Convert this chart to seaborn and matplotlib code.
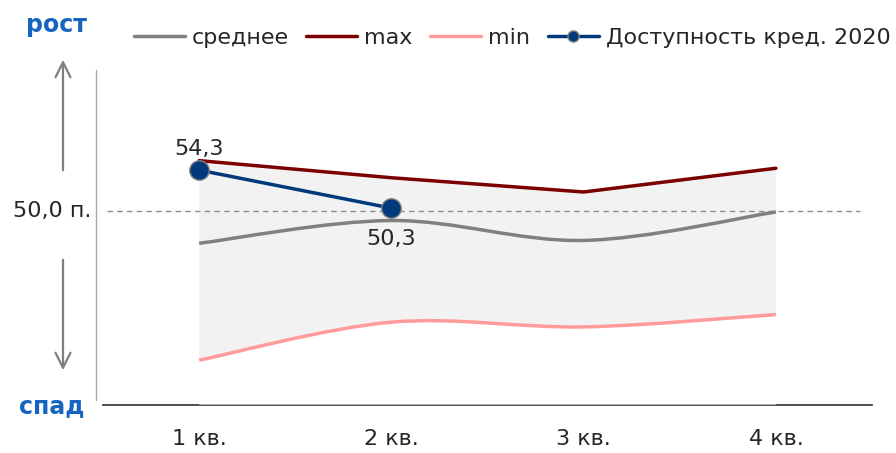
import numpy as np
import pandas as pd
import seaborn as sns
import matplotlib.pyplot as plt
from matplotlib.path import Path
from matplotlib.patches import PathPatch
from matplotlib.lines import Line2D

# data
quarters = ['1 кв.', '2 кв.', '3 кв.', '4 кв.']
avg_vals = [46.6, 49.0, 46.9, 49.9]
max_vals = [55.3, 53.5, 52.0, 54.5]
min_vals = [34.3, 38.3, 37.8, 39.1]
credit_2020 = [54.3, 50.3]
credit_labels = ['54,3', '50,3']
threshold = 50.0

sns.set_theme(style='white')
plt.rcParams['font.family'] = ['DejaVu Sans']

C_AVG = '#808080'
C_MAX = '#7b0000'
C_MIN = '#ff9b9b'
C_CRED = '#003a7a'
C_BLUE = '#1565c0'


def bezier_parts(xs, ys):
    # smoothed line like Excel: cubic bezier with catmull-rom controls
    pts = np.column_stack([xs, ys]).astype(float)
    n = len(pts)
    verts, codes = [pts[0]], [Path.MOVETO]
    for i in range(n - 1):
        p0 = pts[max(i - 1, 0)]
        p1, p2 = pts[i], pts[i + 1]
        p3 = pts[min(i + 2, n - 1)]
        verts += [p1 + (p2 - p0) / 6, p2 - (p3 - p1) / 6, p2]
        codes += [Path.CURVE4] * 3
    return verts, codes


df = pd.DataFrame({'x': range(len(quarters)), 'avg': avg_vals,
                   'max': max_vals, 'min': min_vals})
xs = df['x'].to_numpy()

fig = plt.figure(figsize=(8.96, 4.53), dpi=100)
ax = fig.add_axes([103 / 896, 48 / 453, 769 / 896, 335 / 453])

# shaded band between max (straight) and min (smoothed)
v_min, c_min = bezier_parts(xs[::-1], np.array(min_vals)[::-1])
band_v = [np.array([x, y]) for x, y in zip(xs, max_vals)] + v_min + [v_min[0]]
band_c = [Path.MOVETO] + [Path.LINETO] * (len(xs) - 1) + [Path.LINETO] + c_min[1:] + [Path.CLOSEPOLY]
ax.add_patch(PathPatch(Path(band_v, band_c), facecolor='#f2f2f2', edgecolor='none', zorder=1))

# light veil below the min curve (greys out the axis line there)
v_lo, c_lo = bezier_parts(xs, min_vals)
lo = 29.58
veil_v = v_lo + [np.array([xs[-1], lo]), np.array([xs[0], lo]), v_lo[0]]
veil_c = c_lo + [Path.LINETO, Path.LINETO, Path.CLOSEPOLY]
ax.add_patch(PathPatch(Path(veil_v, veil_c), facecolor='white', edgecolor='none',
                       alpha=0.55, zorder=3))

ax.axhline(threshold, xmin=0.005, xmax=0.985, color='#8c8c8c', lw=1,
           ls=(0, (4, 3)), zorder=2)

# smoothed average and min lines
va, ca = bezier_parts(xs, avg_vals)
ax.add_patch(PathPatch(Path(va, ca), facecolor='none', edgecolor=C_AVG, lw=2.5,
                       capstyle='butt', zorder=4))
ax.add_patch(PathPatch(Path(v_lo, c_lo), facecolor='none', edgecolor=C_MIN, lw=2.5,
                       capstyle='butt', zorder=4))

sns.lineplot(data=df, x='x', y='max', color=C_MAX, lw=2.5, ax=ax, zorder=4)
sns.lineplot(x=xs[:len(credit_2020)], y=credit_2020, color=C_CRED, lw=2.5,
             marker='o', markersize=14, markerfacecolor=C_CRED,
             markeredgecolor='#7f7f7f', markeredgewidth=1, ax=ax, zorder=5)

ax.annotate(credit_labels[0], (xs[0], credit_2020[0]), xytext=(0, 8),
            textcoords='offset points', ha='center', va='bottom', fontsize=16)
ax.annotate(credit_labels[1], (xs[1], credit_2020[1]), xytext=(0, -15),
            textcoords='offset points', ha='center', va='top', fontsize=16)

ax.set_xlim(-0.5, 3.5)
ax.set_ylim(lo, 64.84)
ax.set_xticks(xs, quarters)
ax.set_yticks([])
ax.tick_params(axis='x', length=0, pad=17, labelsize=16)
ax.set_xlabel('')
ax.set_ylabel('')
for s in ['top', 'right', 'left']:
    ax.spines[s].set_visible(False)
ax.spines['bottom'].set_color('#404040')
ax.spines['bottom'].set_linewidth(1.3)

# left axis line, label and arrows
fig.add_artist(Line2D([96 / 896, 96 / 896], [53 / 453, 383 / 453],
                      color='#a6a6a6', lw=1))
fig.text(91 / 896, 242 / 453, '50,0 п.', ha='right', va='center', fontsize=16)
fig.text(56 / 896, 428 / 453, 'рост', ha='center', va='center', fontsize=17,
         fontweight='bold', color=C_BLUE)
fig.text(52 / 896, 47 / 453, 'спад', ha='center', va='center', fontsize=17,
         fontweight='bold', color=C_BLUE)
arrow = dict(arrowstyle='->,head_length=0.9,head_width=0.45', color='#7f7f7f', lw=1.6)
ax.annotate('', xy=(63, 396), xytext=(63, 280), xycoords='figure pixels',
            textcoords='figure pixels', arrowprops=arrow)
ax.annotate('', xy=(63, 80), xytext=(63, 196), xycoords='figure pixels',
            textcoords='figure pixels', arrowprops=arrow)

handles = [Line2D([], [], color=C_AVG, lw=2.5),
           Line2D([], [], color=C_MAX, lw=2.5),
           Line2D([], [], color=C_MIN, lw=2.5),
           Line2D([], [], color=C_CRED, lw=2.5, marker='o', markersize=8,
                  markerfacecolor=C_CRED, markeredgecolor='#7f7f7f')]
fig.legend(handles, ['среднее', 'max', 'min', 'Доступность кред. 2020'],
           loc='center', bbox_to_anchor=(512 / 896, 415 / 453), ncol=4,
           frameon=False, fontsize=16, handlelength=2.3, handletextpad=0.3,
           columnspacing=0.8)

fig.savefig('out.png', dpi=100)
